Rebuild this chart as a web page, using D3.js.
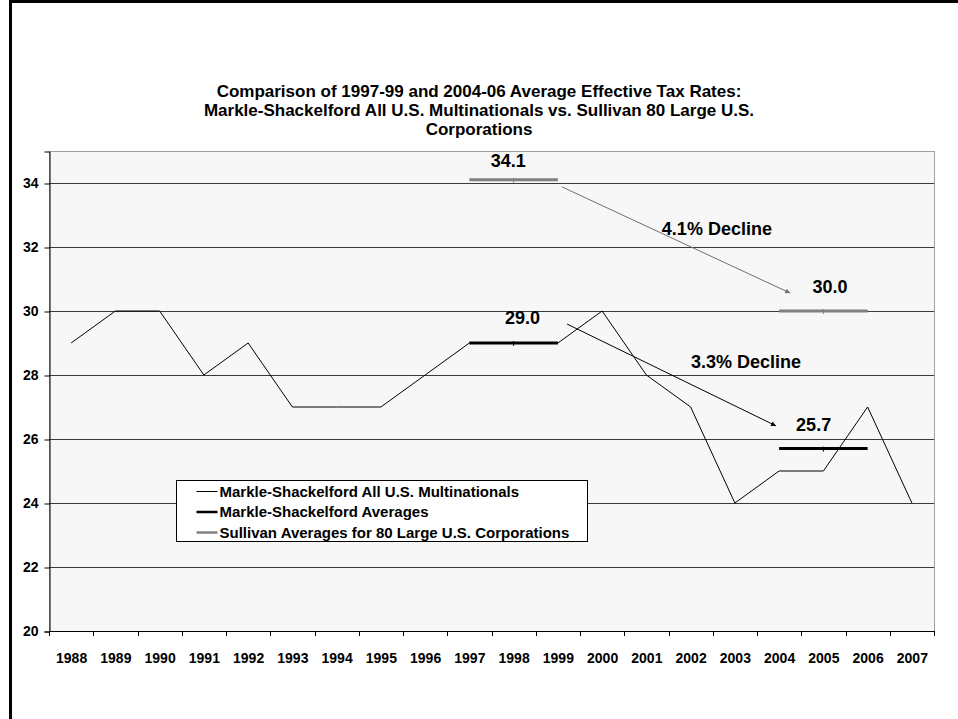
<!DOCTYPE html>
<html>
<head>
<meta charset="utf-8">
<script src="https://cdn.jsdelivr.net/npm/d3@7/dist/d3.min.js"></script>
<style>
  html, body { margin: 0; padding: 0; background: #fff; }
  svg { display: block; font-family: Arial, "Liberation Sans", Helvetica, sans-serif; }
</style>
</head>
<body>
<svg id="chart" width="958" height="719"></svg>
<script>
// Years on the category axis
const years = ["1988","1989","1990","1991","1992","1993","1994","1995","1996","1997",
               "1998","1999","2000","2001","2002","2003","2004","2005","2006","2007"];

// Markle-Shackelford effective tax rate, all U.S. multinationals (%)
const msRates = [29, 30, 30, 28, 29, 27, 27, 27, 28, 29, 29, 29, 30, 28, 27, 24, 25, 25, 27, 24];

// Period averages (1997-99 and 2004-06)
const periodYears = [["1997","1998","1999"], ["2004","2005","2006"]];
const msAverages = [29.0, 25.7];
const sullivanAverages = [34.1, 30.0];

// Percentage-point declines between the two periods
const declineLabels = ["4.1% Decline", "3.3% Decline"];

// Value axis ticks
const yTicks = [20, 22, 24, 26, 28, 30, 32, 34];

const titleLines = [
  "Comparison of 1997-99 and 2004-06 Average Effective Tax Rates:",
  "Markle-Shackelford All U.S. Multinationals vs. Sullivan 80 Large U.S.",
  "Corporations"
];

const legendItems = [
  { label: "Markle-Shackelford All U.S. Multinationals", color: "#000", width: 1 },
  { label: "Markle-Shackelford Averages", color: "#000", width: 3 },
  { label: "Sullivan Averages for 80 Large U.S. Corporations", color: "#808080", width: 3 }
];

const svg = d3.select("#chart");
const plot = { left: 49, right: 934, top: 151, bottom: 631 };

// Outer frame (left and top edges)
svg.append("line").attr("x1", 10.5).attr("x2", 10.5).attr("y1", 0).attr("y2", 719)
  .attr("stroke", "#000").attr("stroke-width", 3);
svg.append("line").attr("x1", 9).attr("x2", 958).attr("y1", 1.5).attr("y2", 1.5)
  .attr("stroke", "#000").attr("stroke-width", 3);

// Scales
const x = d3.scalePoint().domain(years).range([plot.left, plot.right]).padding(0.5);
const xCont = d3.scaleLinear().domain([1987.5, 2007.5]).range([plot.left, plot.right]);
const y = d3.scaleLinear().domain([20, 35]).range([plot.bottom, plot.top]);

// Plot area
svg.append("rect")
  .attr("x", plot.left + 0.5).attr("y", plot.top + 0.5)
  .attr("width", plot.right - plot.left).attr("height", plot.bottom - plot.top)
  .attr("fill", "#f7f7f7").attr("stroke", "#a0a0a0").attr("stroke-width", 1);

// Horizontal gridlines
svg.append("g").selectAll("line")
  .data(yTicks.filter(v => v > 20))
  .join("line")
  .attr("x1", plot.left).attr("x2", plot.right)
  .attr("y1", d => Math.round(y(d)) + 0.5).attr("y2", d => Math.round(y(d)) + 0.5)
  .attr("stroke", "#3a3a3a").attr("stroke-width", 1);

// Y axis
const yAxis = svg.append("g")
  .attr("transform", `translate(${plot.left + 0.5},0.5)`)
  .call(d3.axisLeft(y).tickValues(yTicks).tickSize(5).tickPadding(6).tickFormat(d3.format("d")));
yAxis.select(".domain").attr("stroke", "#000");
yAxis.selectAll(".tick line").attr("stroke", "#000");
yAxis.selectAll("text").attr("font-size", 14).attr("font-weight", "bold").attr("fill", "#000")
  .attr("font-family", "Arial, 'Liberation Sans', sans-serif");

// X axis: labels at category centres, tick marks at category boundaries
const xAxis = svg.append("g")
  .attr("transform", `translate(0,${plot.bottom + 0.5})`)
  .call(d3.axisBottom(x).tickSize(0).tickPadding(22));
xAxis.select(".domain").remove();
xAxis.selectAll("text").attr("font-size", 14).attr("font-weight", "bold").attr("fill", "#000")
  .attr("font-family", "Arial, 'Liberation Sans', sans-serif");
svg.append("line")
  .attr("x1", plot.left).attr("x2", plot.right + 1)
  .attr("y1", plot.bottom + 0.5).attr("y2", plot.bottom + 0.5)
  .attr("stroke", "#000");
svg.append("g").selectAll("line")
  .data(d3.range(1987.5, 2008, 1))
  .join("line")
  .attr("x1", d => Math.round(xCont(d)) + 0.5).attr("x2", d => Math.round(xCont(d)) + 0.5)
  .attr("y1", plot.bottom).attr("y2", plot.bottom + 5)
  .attr("stroke", "#000");

// Main series line
const line = d3.line().x(d => x(d.year)).y(d => y(d.value));
svg.append("path")
  .datum(years.map((yr, i) => ({ year: yr, value: msRates[i] })))
  .attr("d", line)
  .attr("fill", "none").attr("stroke", "#000").attr("stroke-width", 1);

// Period average lines with small markers at the middle year
function drawAverages(values, color) {
  values.forEach((v, k) => {
    const pts = periodYears[k].map(yr => ({ year: yr, value: v }));
    svg.append("path").datum(pts).attr("d", line)
      .attr("fill", "none").attr("stroke", color).attr("stroke-width", 3);
    const mid = pts[1];
    svg.append("line")
      .attr("x1", x(mid.year)).attr("x2", x(mid.year))
      .attr("y1", y(mid.value) - 2).attr("y2", y(mid.value) + 3)
      .attr("stroke", color).attr("stroke-width", 1);
  });
}
drawAverages(sullivanAverages, "#808080");
drawAverages(msAverages, "#000");

// Value labels above each average line
const avgLabelOffsets = {
  sullivan: [{ dx: -0.12, dy: 13 }, { dx: 0.15, dy: 18 }],
  ms: [{ dx: 0.2, dy: 19 }, { dx: -0.22, dy: 18 }]
};
function drawAvgLabels(values, offsets) {
  values.forEach((v, k) => {
    const midYear = +periodYears[k][1];
    svg.append("text")
      .attr("x", xCont(midYear + offsets[k].dx))
      .attr("y", y(v) - offsets[k].dy)
      .attr("text-anchor", "middle")
      .attr("font-size", 18).attr("font-weight", "bold").attr("fill", "#000")
      .text(d3.format(".1f")(v));
  });
}
drawAvgLabels(sullivanAverages, avgLabelOffsets.sullivan);
drawAvgLabels(msAverages, avgLabelOffsets.ms);

// Arrow markers
const defs = svg.append("defs");
[["arrGray", "#707070"], ["arrBlack", "#000"]].forEach(([id, c]) => {
  defs.append("marker")
    .attr("id", id).attr("viewBox", "0 0 10 10")
    .attr("refX", 10).attr("refY", 5)
    .attr("markerWidth", 6).attr("markerHeight", 5)
    .attr("markerUnits", "userSpaceOnUse")
    .attr("orient", "auto")
    .append("path").attr("d", "M0,0 L10,5 L0,10 Z").attr("fill", c);
});

// Decline arrows (from the 1997-99 label to the 2004-06 label), in data coordinates
const arrows = [
  { from: [1999.09, 33.88], to: [2004.25, 30.56], color: "#707070", marker: "arrGray" },
  { from: [1999.21, 29.59], to: [2003.93, 26.41], color: "#000", marker: "arrBlack" }
];
arrows.forEach(a => {
  svg.append("line")
    .attr("x1", xCont(a.from[0])).attr("y1", y(a.from[1]))
    .attr("x2", xCont(a.to[0])).attr("y2", y(a.to[1]))
    .attr("stroke", a.color).attr("stroke-width", 1)
    .attr("marker-end", `url(#${a.marker})`);
});

// Decline labels
const declinePos = [[2001.35, 32.375], [2002.01, 28.22]];
declineLabels.forEach((t, i) => {
  svg.append("text")
    .attr("x", xCont(declinePos[i][0])).attr("y", y(declinePos[i][1]))
    .attr("font-size", 18).attr("font-weight", "bold").attr("fill", "#000")
    .text(t);
});

// Title
svg.append("g").selectAll("text")
  .data(titleLines)
  .join("text")
  .attr("x", 479).attr("y", (d, i) => 97 + i * 19)
  .attr("text-anchor", "middle")
  .attr("font-size", 17).attr("font-weight", "bold").attr("fill", "#000")
  .text(d => d);

// Legend
const legend = svg.append("g").attr("transform", "translate(176.5,480.5)");
legend.append("rect").attr("width", 411).attr("height", 61)
  .attr("fill", "#fff").attr("stroke", "#000").attr("stroke-width", 1);
const rows = legend.selectAll("g.row").data(legendItems).join("g")
  .attr("class", "row")
  .attr("transform", (d, i) => `translate(0,${11 + i * 20.5})`);
rows.append("line").attr("x1", 20).attr("x2", 41).attr("y1", 0).attr("y2", 0)
  .attr("stroke", d => d.color).attr("stroke-width", d => d.width === 1 ? 1 : 2.5);
rows.append("text").attr("x", 43).attr("y", 5)
  .attr("font-size", 15).attr("font-weight", "bold").attr("fill", "#000")
  .text(d => d.label);
</script>
</body>
</html>
